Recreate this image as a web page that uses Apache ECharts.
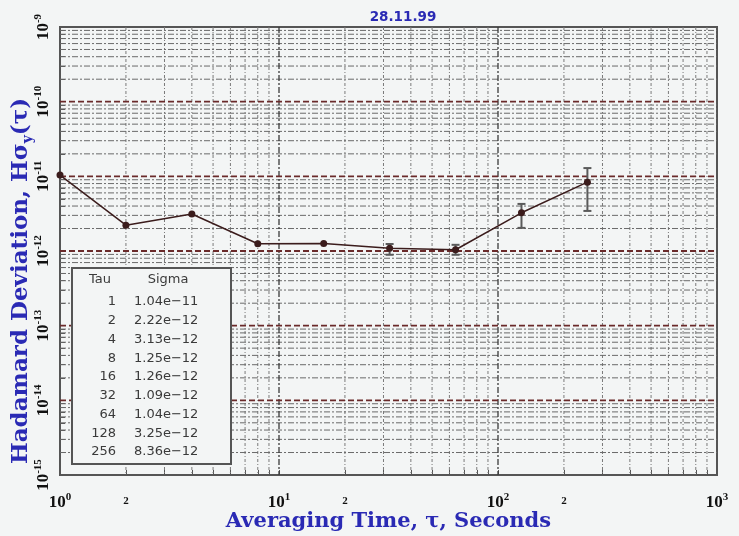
<!DOCTYPE html>
<html><head><meta charset="utf-8">
<script src="https://cdn.jsdelivr.net/npm/echarts@6/dist/echarts.min.js"></script>
<style>html,body{margin:0;padding:0;background:#f3f5f5}#c{width:739px;height:536px}</style>
</head><body><div id="c"></div>
<script>
// ---- data ----
const titleText = '28.11.99';
const tau = [1, 2, 4, 8, 16, 32, 64, 128, 256];
const sigma = [1.04e-11, 2.22e-12, 3.13e-12, 1.25e-12, 1.26e-12, 1.09e-12, 1.04e-12, 3.25e-12, 8.36e-12];
const errLow = [null, null, null, null, null, 0.89e-12, 0.89e-12, 2.04e-12, 3.44e-12];
const errHigh = [null, null, null, null, null, 1.24e-12, 1.21e-12, 4.27e-12, 1.29e-11];
const xLabelValues = [1, 2, 10, 20, 100, 200, 1000];
const yLabelValues = [1e-15, 1e-14, 1e-13, 1e-12, 1e-11, 1e-10, 1e-9];
const xDecadeExps = [0, 1, 2, 3];
const yDecadeExps = [-15, -14, -13, -12, -11, -10, -9];
const minorMult = [2, 3, 4, 5, 6, 7, 8, 9];
const xTitle = 'Averaging Time, τ, Seconds';
const yTitle = '{t|Hadamard Deviation, Hσ}{u|y}{t|(τ)}';
const tableHead = ['Tau', 'Sigma'];

// ---- derived ----
const xMinor = [], yMinor = [];
xDecadeExps.slice(0, -1).forEach(e => minorMult.forEach(k => xMinor.push(k * Math.pow(10, e))));
yDecadeExps.slice(0, -1).forEach(e => minorMult.forEach(k => yMinor.push(k * Math.pow(10, e))));
const xMajor = xDecadeExps.map(e => Math.pow(10, e));
const yMajor = yDecadeExps.map(e => Math.pow(10, e));
const xTicksAll = xMajor.concat(xMinor).sort((a, b) => a - b);
const yTicksAll = yMajor.concat(yMinor).sort((a, b) => a - b);

const blue = '#2a2ab4';
const bg = '#f3f5f5';
const serif = '"DejaVu Serif", serif';
const lserif = '"Liberation Serif", serif';
const tickRich = {
  b: { fontFamily: lserif, fontWeight: 'bold', fontSize: 17, color: '#111', lineHeight: 19, verticalAlign: 'bottom' },
  e: { fontFamily: lserif, fontWeight: 'bold', fontSize: 11, color: '#111', lineHeight: 19, verticalAlign: 'top' },
  s: { fontFamily: lserif, fontWeight: 'bold', fontSize: 11, color: '#111', lineHeight: 19, verticalAlign: 'middle' }
};
function fmtLog(v) {
  const ex = Math.log10(v);
  const r = Math.round(ex);
  if (Math.abs(ex - r) < 1e-6) return '{b|10}{e|' + r + '}';
  return '{s|' + Math.round(v / Math.pow(10, Math.floor(ex))) + '}';
}

// grid line series (custom) drawn through the axes
function gridSeries(values, dir, color, width, dash) {
  return {
    type: 'custom', silent: true, z: 1, clip: false,
    data: values.map(v => dir === 'v' ? [v, 1e-12] : [10, v]),
    renderItem: function (params, api) {
      const cs = params.coordSys;
      const p = api.coord([api.value(0), api.value(1)]);
      const shape = dir === 'v'
        ? { x1: p[0], y1: cs.y, x2: p[0], y2: cs.y + cs.height }
        : { x1: cs.x, y1: p[1], x2: cs.x + cs.width, y2: p[1] };
      return { type: 'line', shape: shape, style: { stroke: color, lineWidth: width, lineDash: dash } };
    }
  };
}

const errData = [];
tau.forEach((t, i) => { if (errLow[i] != null) errData.push([t, errLow[i], errHigh[i]]); });

// table
const tfont = '13px "DejaVu Sans", sans-serif';
const tcol = '#3a3a3a';
const TZ = 100;
const tableChildren = [{
  type: 'rect', z: TZ, shape: { x: 0, y: 0, width: 159, height: 196 },
  style: { fill: bg, stroke: '#555', lineWidth: 2 }
}, {
  type: 'text', z: TZ + 1, x: 28, y: 12, style: { text: tableHead[0], align: 'center', verticalAlign: 'middle', font: tfont, fill: tcol }
}, {
  type: 'text', z: TZ + 1, x: 96, y: 12, style: { text: tableHead[1], align: 'center', verticalAlign: 'middle', font: tfont, fill: tcol }
}];
tau.forEach((t, i) => {
  const yy = 34 + i * 18.75;
  tableChildren.push({ type: 'text', z: TZ + 1, x: 44, y: yy, style: { text: String(t), align: 'right', verticalAlign: 'middle', font: tfont, fill: tcol } });
  tableChildren.push({ type: 'text', z: TZ + 1, x: 62, y: yy, style: { text: sigma[i].toExponential(2).replace('-', '\u2212'), align: 'left', verticalAlign: 'middle', font: tfont, fill: tcol } });
});

const chart = echarts.init(document.getElementById('c'), null, { renderer: 'canvas' });
chart.setOption({
  animation: false,
  backgroundColor: bg,
  title: {
    text: titleText, left: 398, top: 5, textAlign: 'center',
    textStyle: { fontFamily: '"DejaVu Sans", sans-serif', fontWeight: 'bold', fontSize: 13.5, color: blue }
  },
  grid: { left: 60, right: 22, top: 27, bottom: 61, containLabel: false, outerBoundsMode: 'none', show: true, borderColor: '#555', borderWidth: 2, backgroundColor: 'transparent' },
  xAxis: {
    type: 'log', logBase: 10, min: 1, max: 1000,
    name: xTitle, nameLocation: 'middle', nameGap: 36, nameMoveOverlap: false,
    nameTextStyle: { fontFamily: serif, fontWeight: 'bold', fontSize: 21, color: blue },
    axisLine: { show: true, lineStyle: { color: '#555', width: 2 } },
    axisTick: { show: true, inside: true, length: 5, customValues: xTicksAll, lineStyle: { color: '#555' } },
    axisLabel: { customValues: xLabelValues, formatter: fmtLog, rich: tickRich, margin: 17 },
    splitLine: { show: false }, minorTick: { show: false }
  },
  yAxis: {
    type: 'log', logBase: 10, min: 1e-15, max: 1e-9,
    axisLine: { show: true, lineStyle: { color: '#555', width: 2 } },
    axisTick: { show: true, inside: true, length: 5, customValues: yTicksAll, lineStyle: { color: '#555' } },
    axisLabel: { customValues: yLabelValues, formatter: fmtLog, rich: tickRich, rotate: 90, margin: 8 },
    splitLine: { show: false }
  },
  graphic: {
    elements: [{
      type: 'text', x: 21, y: 281, rotation: Math.PI / 2,
      style: {
        text: yTitle, align: 'center', verticalAlign: 'middle',
        rich: {
          t: { fontFamily: serif, fontWeight: 'bold', fontSize: 23, fill: blue, lineHeight: 28 },
          u: { fontFamily: serif, fontWeight: 'bold', fontSize: 14, fill: blue, lineHeight: 28, verticalAlign: 'bottom' }
        }
      }
    }, {
      type: 'group', x: 72, y: 268, z: TZ, children: tableChildren
    }]
  },
  series: [
    gridSeries(xMinor, 'v', '#7a7a7a', 1, [3, 2, 1, 2]),
    gridSeries(yMinor, 'h', '#6a6a6a', 1, [6, 2, 2, 2]),
    gridSeries(xMajor.slice(1, -1), 'v', '#3a3a3a', 1.3, [6, 2, 2, 2]),
    gridSeries(yMajor.slice(1, -1), 'h', '#6a2a2a', 1.8, [6, 3]),
    {
      type: 'custom', z: 5, data: errData,
      renderItem: function (params, api) {
        const x = api.value(0);
        const lo = api.coord([x, api.value(1)]);
        const hi = api.coord([x, api.value(2)]);
        const c = '#5a5a5a';
        return {
          type: 'group', children: [
            { type: 'line', shape: { x1: lo[0], y1: lo[1], x2: hi[0], y2: hi[1] }, style: { stroke: c, lineWidth: 2 } },
            { type: 'line', shape: { x1: lo[0] - 4, y1: lo[1], x2: lo[0] + 4, y2: lo[1] }, style: { stroke: c, lineWidth: 2 } },
            { type: 'line', shape: { x1: hi[0] - 4, y1: hi[1], x2: hi[0] + 4, y2: hi[1] }, style: { stroke: c, lineWidth: 2 } }
          ]
        };
      }
    }, {
      type: 'line', z: 10,
      data: tau.map((t, i) => [t, sigma[i]]),
      symbol: 'circle', symbolSize: 7,
      lineStyle: { color: '#3b1c1c', width: 1.5 },
      itemStyle: { color: '#3b1c1c' }
    }]
});
</script></body></html>
